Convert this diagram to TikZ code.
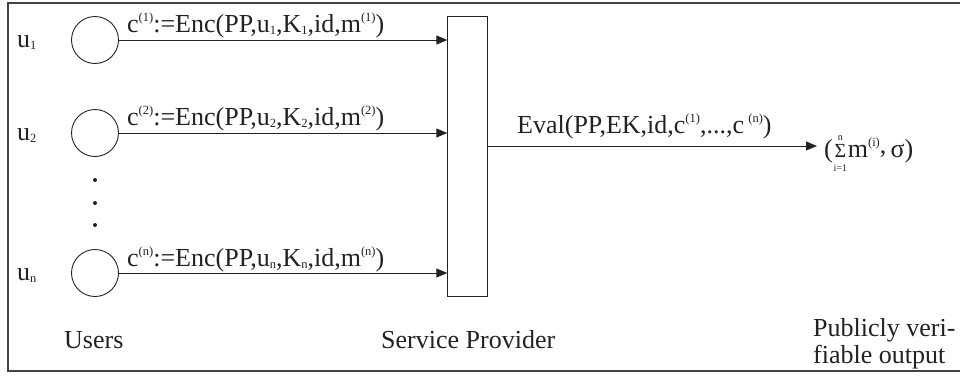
\documentclass[tikz,border=0pt]{standalone}
\usepackage{fontspec}
\setmainfont{Liberation Serif}
\usetikzlibrary{arrows.meta}
\newcommand{\sps}[1]{\raisebox{11pt}{\fontsize{12.5}{13}\selectfont #1}}
\newcommand{\sbs}[1]{\raisebox{-2pt}{\fontsize{12.5}{13}\selectfont #1}}
\newcommand{\sumstack}{\makebox[15pt]{\fontsize{20}{20}\selectfont Σ}\llap{\raisebox{17pt}{\makebox[15pt]{\fontsize{10}{10}\selectfont n}}}\llap{\raisebox{-14pt}{\makebox[15pt]{\fontsize{10}{10}\selectfont i=1}}}}
\definecolor{ink}{HTML}{222222}
\begin{document}
\begin{tikzpicture}[x=1pt,y=-1pt,
  font=\fontsize{26}{27}\selectfont, text=ink,
  frame/.style={draw=ink!85, line width=1.2pt},
  user/.style={circle, draw=ink, line width=0.9pt, minimum size=47pt, inner sep=0pt},
  lbl/.style={inner sep=0pt},
  arr/.style={draw=ink, line width=0.9pt, -{Triangle[length=11pt,width=9pt]}},
  dotn/.style={circle, fill=ink, minimum size=4pt, inner sep=0pt}]
\useasboundingbox (0,0) rectangle (960,375);
\draw[frame] (960,3) -- (8,3) -- (8,371) -- (960,371);
% users
\node[user] (c1) at (95,40) {};
\node[user] (c2) at (95,133) {};
\node[user] (cn) at (95,273) {};
\node[lbl, anchor=base west] (u1) at (17,47) {u\sbs{1}};
\node[lbl, anchor=base west] (u2) at (17,140) {u\sbs{2}};
\node[lbl, anchor=base west] (un) at (17,280) {u\sbs{n}};
\node[dotn] (d1) at (95,180) {};
\node[dotn] (d2) at (95,203) {};
\node[dotn] (d3) at (95,225) {};
% service provider
\node[draw=ink, line width=0.9pt, minimum width=39.5pt, minimum height=280pt, inner sep=0pt] (sp) at (467.5,156) {};
% user arrows
\draw[arr] (c1) -- (c1 -| sp.west);
\draw[arr] (c2) -- (c2 -| sp.west);
\draw[arr] (cn) -- (cn -| sp.west);
\node[lbl, anchor=base west] (l1) at (127,32) {c\sps{(1)}:=Enc(PP,u\sbs{1},K\sbs{1},id,m\sps{(1)})};
\node[lbl, anchor=base west] (l2) at (127,125) {c\sps{(2)}:=Enc(PP,u\sbs{2},K\sbs{2},id,m\sps{(2)})};
\node[lbl, anchor=base west] (ln) at (127,266) {c\sps{(n)}:=Enc(PP,u\sbs{n},K\sbs{n},id,m\sps{(n)})};
% evaluation
\coordinate (oin) at (817,146);
\draw[arr] (sp.east |- oin) -- (oin);
\node[lbl, anchor=base west] (ev) at (517,133) {Eval(PP,EK,id,c\sps{(1)},...,c\,\sps{(n)})};
\node[lbl, anchor=base west] (out) at (824,157) {(\sumstack m\sps{(i)}\raisebox{4pt}{,}\,σ)};
% captions
\node[lbl, anchor=base west] (users) at (64,348) {Users};
\node[lbl, anchor=base west] (spl) at (381,348) {Service Provider};
\node[lbl, anchor=north west, align=left] (pub) at (813,318) {Publicly veri-\\fiable output};
\end{tikzpicture}
\end{document}
